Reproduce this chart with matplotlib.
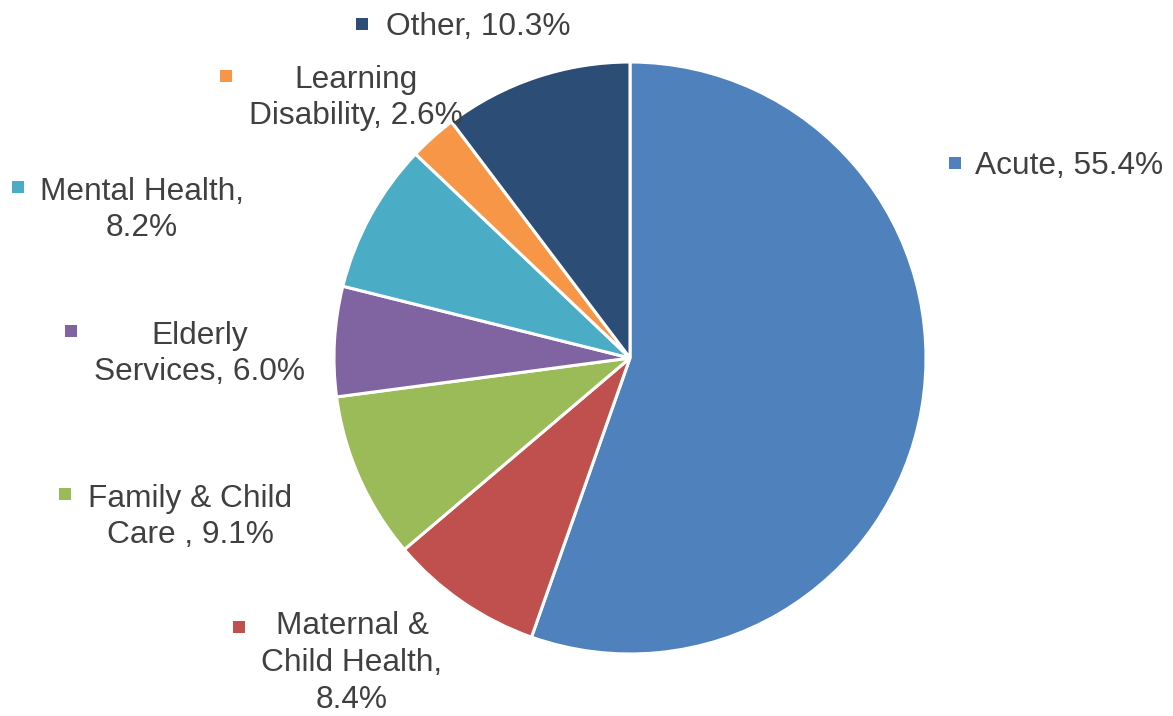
import matplotlib
matplotlib.use("Agg")
import matplotlib.pyplot as plt
from matplotlib.patches import Rectangle

plt.rcParams['font.family'] = ['Liberation Sans', 'DejaVu Sans']

categories = ["Acute", "Maternal & Child Health", "Family & Child Care", "Elderly Services",
              "Mental Health", "Learning Disability", "Other"]
shares = [55.4, 8.4, 9.1, 6.0, 8.2, 2.6, 10.3]
colors = ["#4F81BD", "#C0504D", "#9BBB59", "#8064A2", "#4BACC6", "#F79646", "#2C4D75"]
label_texts = ["Acute, 55.4%", "Maternal &\nChild Health,\n8.4%", "Family & Child\nCare , 9.1%",
               "Elderly\nServices, 6.0%", "Mental Health,\n8.2%", "Learning\nDisability, 2.6%",
               "Other, 10.3%"]

W, H = 1173, 716
fig = plt.figure(figsize=(W / 100, H / 100), dpi=100)

cx, cy, r = 630, 358, 296
ax = fig.add_axes([(cx - r) / W, (H - cy - r) / H, 2 * r / W, 2 * r / H])
ax.pie(shares, colors=colors, startangle=90, counterclock=False, radius=1,
       wedgeprops=dict(edgecolor="white", linewidth=2.2))
ax.set_xlim(-1, 1)
ax.set_ylim(-1, 1)
ax.axis("off")

# label layout: (text x, text y, alignment, marker x, marker y) in pixels
layout = [
    (975, 166, "left", 955, 163),
    (352, 663, "center", 239, 627),
    (190, 517, "center", 65, 494),
    (200, 354, "center", 71, 331),
    (142, 210, "center", 18, 187),
    (356, 98, "center", 226, 76),
    (386, 27, "left", 362, 24),
]

ms = 12
for text, col, (tx, ty, ha, mx, my) in zip(label_texts, colors, layout):
    fig.text(tx / W, 1 - ty / H, text, ha=ha, va="center", multialignment="center",
             fontsize=22.8, color="#404040", linespacing=1.3)
    fig.patches.append(Rectangle(((mx - ms / 2) / W, 1 - (my + ms / 2) / H), ms / W, ms / H,
                                 transform=fig.transFigure, facecolor=col, edgecolor="none"))

fig.savefig("out.png", dpi=100)
